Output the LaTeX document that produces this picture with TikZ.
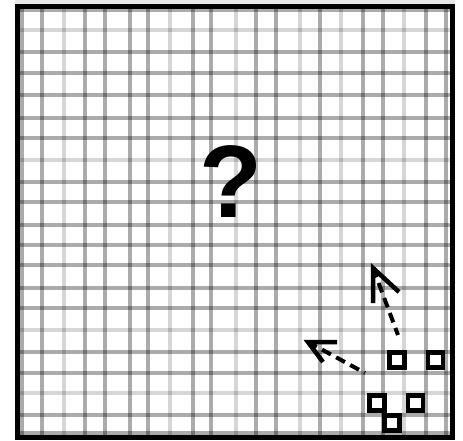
\documentclass[tikz,border=0pt]{standalone}
\usepackage{fontspec}
\newfontfamily\qfont{Liberation Sans}
\tikzset{
  gridline/.style={draw=black, draw opacity=0.33, line width=3.6pt},
  gridlight/.style={draw=black, draw opacity=0.16, line width=3.6pt},
  framebox/.style={draw=black, line width=5pt},
  sq/.style={draw=black, fill=white, line width=4.6pt, minimum size=15pt, inner sep=0pt, outer sep=0pt},
  shaft/.style={draw=black, line width=4pt, dash pattern=on 10pt off 6pt},
  barb/.style={draw=black, line width=4.5pt, line cap=butt, line join=miter},
}
\begin{document}
\begin{tikzpicture}[x=1pt,y=-1pt]
\useasboundingbox (0,0) rectangle (463,440);
\fill[white] (0,0) rectangle (463,440);
\fill[black!9] (15,0) rectangle (455,4);
\begin{scope}
\clip (17.5,6.5) rectangle (452.5,437.5);
\foreach \x in {22,42,85,105,130,148,193,211,256,276,320,363,383,426,446}
  \draw[gridline] (\x,0) -- (\x,440);
\foreach \x in {64,170,236,300,341,404}
  \draw[gridlight] (\x,0) -- (\x,440);
\foreach \y in {10,52,73,95,118,138,182,202,225,245,265,288,308,352,373,415,433}
  \draw[gridline] (0,\y) -- (463,\y);
\foreach \y in {30,160,330,393}
  \draw[gridlight] (0,\y) -- (463,\y);
\end{scope}
\draw[framebox] (17.5,6.5) rectangle (452.5,437.5);
\node[inner sep=0pt, font=\qfont\bfseries\fontsize{103}{103}\selectfont] (q) at (230.5,182) {?};
\node[sq] (sa) at (397,360) {};
\node[sq] (sb) at (435.5,360) {};
\node[sq] (sc) at (377,403) {};
\node[sq] (sd) at (415.5,403) {};
\node[sq] (se) at (392,423) {};
% arrow pointing up
\coordinate (t1) at (398,335);
\coordinate (h1) at (373,268);
\draw[shaft] (h1) -- (t1);
\draw[barb] (373,303) -- (h1) -- (399,292);
% arrow pointing left
\coordinate (t2) at (365,373);
\coordinate (h2) at (308,342);
\draw[shaft] (h2) -- (t2);
\draw[barb] (337,342) -- (h2) -- (323,362);
\end{tikzpicture}
\end{document}
